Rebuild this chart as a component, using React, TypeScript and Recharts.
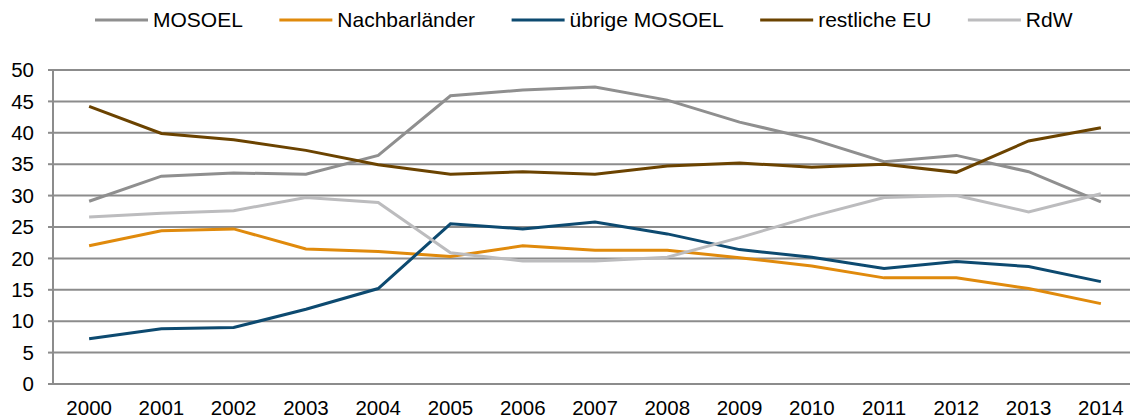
import React from 'react';
import { LineChart, Line, XAxis, YAxis, CartesianGrid, Legend } from 'recharts';

const years = ['2000', '2001', '2002', '2003', '2004', '2005', '2006', '2007', '2008', '2009', '2010', '2011', '2012', '2013', '2014'];
const mosoel = [29.1, 33.1, 33.6, 33.4, 36.4, 45.9, 46.8, 47.3, 45.2, 41.7, 39.0, 35.4, 36.4, 33.8, 29.0];
const nachbarlaender = [22.0, 24.4, 24.7, 21.5, 21.1, 20.3, 22.0, 21.3, 21.3, 20.1, 18.8, 16.9, 16.9, 15.2, 12.8];
const uebrigeMosoel = [7.2, 8.8, 9.0, 11.9, 15.2, 25.5, 24.7, 25.8, 23.9, 21.4, 20.2, 18.4, 19.5, 18.7, 16.3];
const restlicheEU = [44.2, 39.9, 38.9, 37.2, 34.9, 33.4, 33.8, 33.4, 34.7, 35.2, 34.5, 35.0, 33.7, 38.7, 40.8];
const rdw = [26.6, 27.2, 27.6, 29.7, 28.9, 20.9, 19.6, 19.6, 20.2, 23.3, 26.7, 29.7, 30.0, 27.4, 30.3];
const yTicks = [0, 5, 10, 15, 20, 25, 30, 35, 40, 45, 50];

const series = [
  { key: 'mosoel', name: 'MOSOEL', color: '#8f8f8f', values: mosoel },
  { key: 'nachbar', name: 'Nachbarländer', color: '#e08a0c', values: nachbarlaender },
  { key: 'uebrige', name: 'übrige MOSOEL', color: '#0d4a70', values: uebrigeMosoel },
  { key: 'rest', name: 'restliche EU', color: '#6b4300', values: restlicheEU },
  { key: 'rdw', name: 'RdW', color: '#bcbcbe', values: rdw },
];

const data = years.map((y, i) => {
  const row: Record<string, number | string> = { year: y, i };
  series.forEach((s) => {
    row[s.key] = s.values[i];
  });
  return row;
});

const centerTicks = years.map((_, k) => k);
const boundaryTicks = [...years.map((_, k) => k - 0.5), years.length - 0.5];

const FONT = '"Liberation Sans", Arial, sans-serif';
const GRID = '#8c8c8c';
const LEGEND_FS = 21;

function measure(t: string): number {
  const c = document.createElement('canvas').getContext('2d');
  if (!c) return t.length * 11;
  c.font = `${LEGEND_FS}px "Liberation Sans", Arial, sans-serif`;
  return c.measureText(t).width;
}

const renderLegend = () => {
  let x = 95;
  const items = series.map((s) => {
    const w = measure(s.name);
    const it = { s, x };
    x += 53 + 5 + w + 36.5;
    return it;
  });
  return (
    <svg width={1130} height={36} style={{ display: 'block' }}>
      {items.map(({ s, x: ix }) => (
        <g key={s.key}>
          <line x1={ix} x2={ix + 53} y1={20} y2={20} stroke={s.color} strokeWidth={3} />
          <text x={ix + 58} y={27.3} fontSize={LEGEND_FS} fontFamily={FONT} fill="#000">
            {s.name}
          </text>
        </g>
      ))}
    </svg>
  );
};

export default function App() {
  return (
    <div>
      <style>{'body{margin:0;overflow:hidden}'}</style>
      <LineChart width={1137} height={420} data={data} margin={{ top: 70, right: 0, bottom: 0, left: 0 }}>
        <CartesianGrid vertical={false} stroke={GRID} strokeWidth={2} />
        <XAxis
          dataKey="i"
          type="number"
          domain={[-0.5, years.length - 0.5]}
          ticks={centerTicks}
          interval={0}
          tickFormatter={(v: number) => years[v]}
          tickLine={false}
          tickSize={8}
          tickMargin={8}
          height={36}
          axisLine={{ stroke: GRID, strokeWidth: 2 }}
          tick={{ fill: '#000', fontSize: 20.5, fontFamily: FONT }}
        />
        <XAxis
          xAxisId="b"
          dataKey="i"
          type="number"
          domain={[-0.5, years.length - 0.5]}
          ticks={boundaryTicks}
          interval={0}
          tick={false}
          tickSize={8}
          height={0}
          axisLine={false}
          tickLine={{ stroke: GRID, strokeWidth: 2 }}
        />
        <YAxis
          domain={[0, 50]}
          ticks={yTicks}
          interval={0}
          width={53}
          tickSize={5}
          tickMargin={14}
          axisLine={{ stroke: GRID, strokeWidth: 2 }}
          tickLine={{ stroke: GRID, strokeWidth: 2 }}
          tick={{ fill: '#000', fontSize: 20.5, fontFamily: FONT }}
        />
        <Legend
          verticalAlign="middle"
          align="center"
          content={renderLegend}
          wrapperStyle={{ top: 0, left: 0, width: 1130, height: 36 }}
        />
        {series.map((s) => (
          <Line
            key={s.key}
            dataKey={s.key}
            name={s.name}
            type="linear"
            stroke={s.color}
            strokeWidth={3}
            dot={false}
            activeDot={false}
            isAnimationActive={false}
          />
        ))}
      </LineChart>
    </div>
  );
}
